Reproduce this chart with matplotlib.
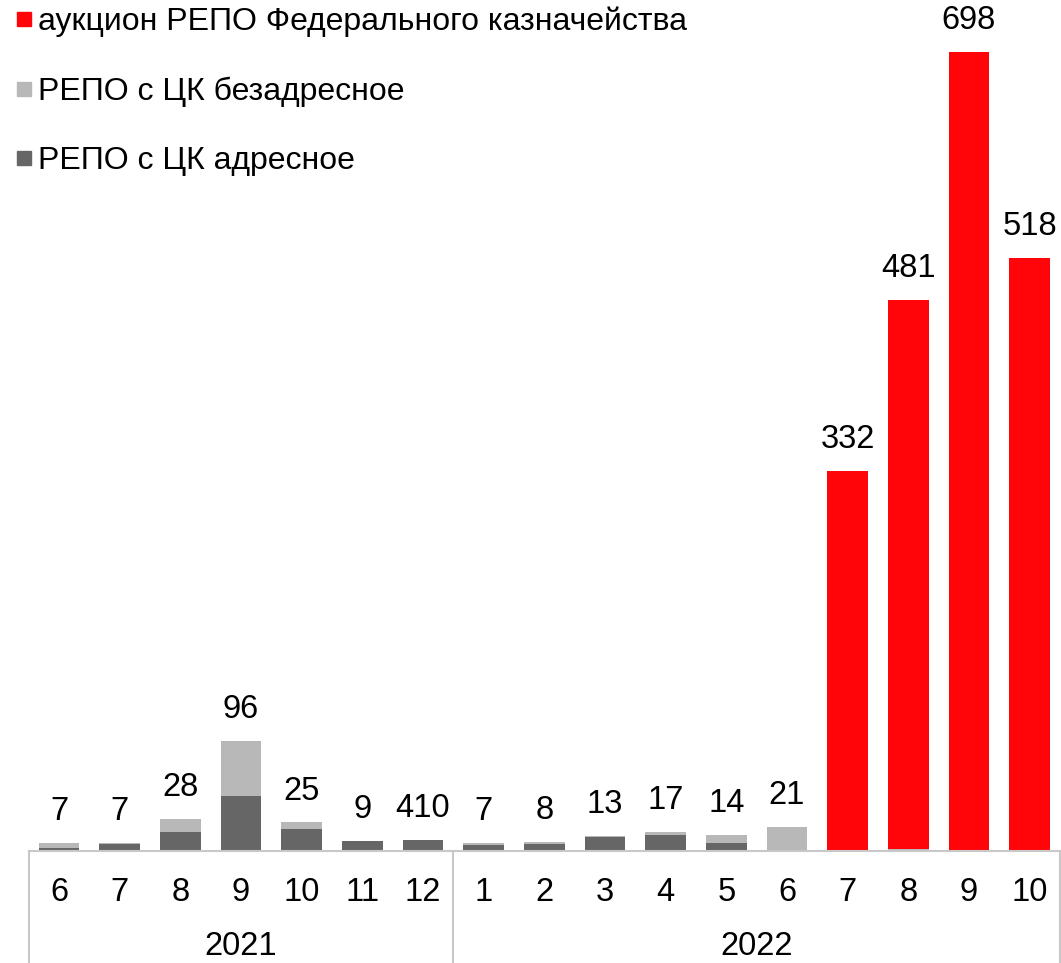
import numpy as np
import matplotlib.pyplot as plt
from matplotlib.lines import Line2D
import matplotlib.transforms as mtransforms

plt.rcParams['font.family'] = ['Liberation Sans', 'DejaVu Sans']

# --- data ---
months = ['6', '7', '8', '9', '10', '11', '12',
          '1', '2', '3', '4', '5', '6', '7', '8', '9', '10']
years = ['2021', '2022']
year_sizes = [7, 10]

addr = [3, 6, 17, 48, 19, 9, 10, 5, 6, 12, 14, 7, 0, 0, 1, 0, 0]       # РЕПО с ЦК адресное
nonaddr = [4, 1, 11, 48, 6, 0, 0, 2, 2, 1, 3, 7, 21, 0, 1, 1, 0]      # РЕПО с ЦК безадресное
treasury = [0, 0, 0, 0, 0, 0, 0, 0, 0, 0, 0, 0, 0, 332, 479, 697, 518]  # аукцион РЕПО ФК
value_labels = ['7', '7', '28', '96', '25', '9', '410', '7', '8', '13',
                '17', '14', '21', '332', '481', '698', '518']

C_RED = '#FF0509'
C_LIGHT = '#B8B8B8'
C_DARK = '#666666'
C_GRID = '#C8C8C8'

fig = plt.figure(figsize=(10.61, 9.63), dpi=100)
ax = fig.add_axes([0.027, 0.1163, 0.972, 0.8837])

x = np.arange(len(months))
addr = np.array(addr)
nonaddr = np.array(nonaddr)
treasury = np.array(treasury)
w = 0.67

ax.bar(x, addr, w, color=C_DARK)
ax.bar(x, nonaddr, w, bottom=addr, color=C_LIGHT)
ax.bar(x, treasury, w, bottom=addr + nonaddr, color=C_RED)

total = addr + nonaddr + treasury
for xi, t, lab in zip(x, total, value_labels):
    ax.annotate(lab, (xi, t), xytext=(0, 22.5), textcoords='offset points',
                ha='center', va='center', fontsize=23.5)

ax.set_xlim(-0.5, len(months) - 0.5)
ax.set_ylim(0, 743)
for s in ['top', 'right', 'left']:
    ax.spines[s].set_visible(False)
ax.spines['bottom'].set_color(C_GRID)
ax.spines['bottom'].set_linewidth(1.5)
ax.set_yticks([])
ax.set_xticks(x)
ax.set_xticklabels(months, fontsize=23.5)
ax.tick_params(axis='x', length=0, pad=19)

# year group labels and separators under the axis
trans = mtransforms.blended_transform_factory(ax.transData, ax.transAxes)
start = 0
seps = [-0.5]
for yr, n in zip(years, year_sizes):
    ax.text(start + (n - 1) / 2, -0.112, yr, transform=trans,
            ha='center', va='center', fontsize=23.5)
    start += n
    seps.append(start - 0.5)
for sx in seps:
    ax.add_line(Line2D([sx, sx], [0, -0.14], transform=trans, color=C_GRID,
                       lw=1.5, clip_on=False))

handles = [Line2D([], [], marker='s', ls='none', color=c, markersize=10)
           for c in [C_RED, C_LIGHT, C_DARK]]
names = ['аукцион РЕПО Федерального казначейства',
         'РЕПО с ЦК безадресное',
         'РЕПО с ЦК адресное']
ax.legend(handles, names, loc='upper left', bbox_to_anchor=(0.015, 0.993),
          bbox_transform=fig.transFigure, frameon=False, fontsize=23,
          handlelength=0.5, handletextpad=0.2, labelspacing=1.23,
          borderaxespad=0, borderpad=0.0)

fig.savefig('out.png', dpi=100)
